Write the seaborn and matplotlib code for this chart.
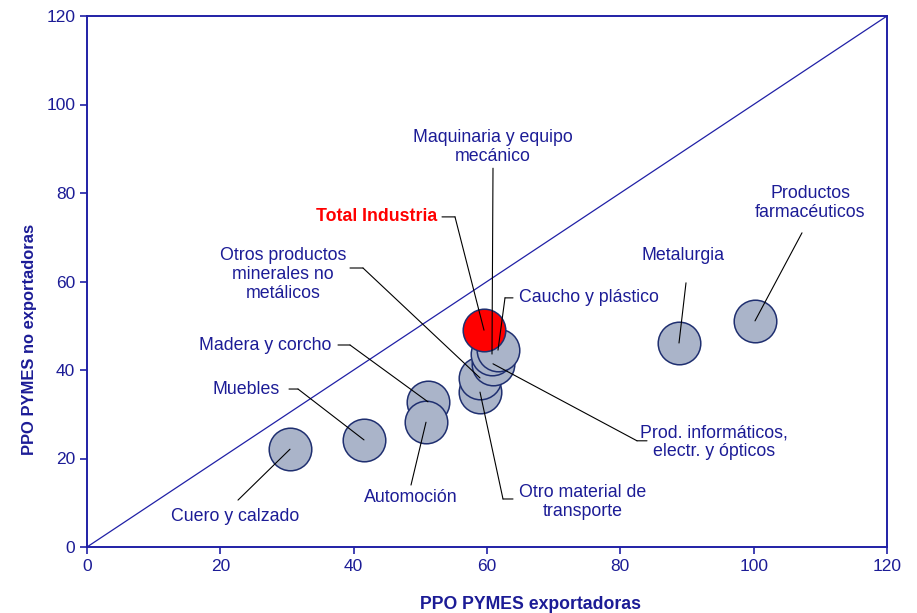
import numpy as np
import pandas as pd
import matplotlib
matplotlib.use("Agg")
import matplotlib.pyplot as plt
import seaborn as sns

# data
sectors = ["Cuero y calzado", "Muebles", "Madera y corcho", "Automoción",
           "Otro material de\ntransporte", "Otros productos\nminerales no\nmetálicos",
           "Prod. informáticos,\nelectr. y ópticos", "Maquinaria y equipo\nmecánico",
           "Caucho y plástico", "Metalurgia", "Productos\nfarmacéuticos",
           "Total Industria"]
ppo_export = [30.45, 41.55, 51.15, 50.85, 58.95, 58.95, 60.9, 60.75, 61.65, 88.8, 100.2, 59.55]
ppo_noexport = [22.1, 24.2, 32.8, 28.2, 35.0, 38.2, 41.4, 43.6, 44.5, 46.1, 51.1, 49.0]

df = pd.DataFrame({"sector": sectors, "exp": ppo_export, "noexp": ppo_noexport})
df["total"] = df["sector"] == "Total Industria"

navy = "#1c1c96"
axis_blue = "#2020a6"
sns.set_style("white")
plt.rcParams["font.family"] = ["Liberation Sans", "DejaVu Sans"]
narrow = ["Liberation Sans Narrow", "Liberation Sans", "DejaVu Sans"]

fig = plt.figure(figsize=(9.17, 6.13), dpi=100)
ax = fig.add_axes([87 / 917, 66 / 613, 800 / 917, 531 / 613])

ax.plot([0, 120], [0, 120], color=axis_blue, lw=0.9, zorder=1)

sns.scatterplot(data=df[~df["total"]], x="exp", y="noexp", s=940,
                color="#aab4c9", edgecolor="#1f2f70", linewidth=1.1, ax=ax, zorder=3)
sns.scatterplot(data=df[df["total"]], x="exp", y="noexp", s=940,
                color="#ff0000", edgecolor="#1f2f70", linewidth=1.1, ax=ax, zorder=4)

# label layout: text position, alignment, elbow (line start), stub start
labels = {
    "Cuero y calzado": dict(xy=(22.2, 6.8), ha="center", elbow=(22.65, 10.6), stub=None),
    "Muebles": dict(xy=(23.85, 35.5), ha="center", elbow=(31.65, 35.7), stub=(30.3, 35.7)),
    "Madera y corcho": dict(xy=(26.7, 45.6), ha="center", elbow=(39.45, 45.65), stub=(37.65, 45.65)),
    "Automoción": dict(xy=(48.6, 11.1), ha="center", elbow=(48.6, 14.0), stub=None),
    "Otro material de\ntransporte": dict(xy=(74.4, 10.2), ha="center", elbow=(62.4, 10.85), stub=(63.9, 10.85)),
    "Otros productos\nminerales no\nmetálicos": dict(xy=(29.4, 61.5), ha="center", elbow=(41.4, 63.05), stub=(39.45, 63.05)),
    "Prod. informáticos,\nelectr. y ópticos": dict(xy=(94.05, 23.7), ha="center", elbow=(82.5, 24.0), stub=(84.0, 24.0)),
    "Maquinaria y equipo\nmecánico": dict(xy=(60.9, 90.4), ha="center", elbow=(60.9, 85.6), stub=None),
    "Caucho y plástico": dict(xy=(64.8, 56.3), ha="left", elbow=(62.7, 56.3), stub=(63.9, 56.3)),
    "Metalurgia": dict(xy=(89.4, 65.8), ha="center", elbow=(89.85, 59.7), stub=None),
    "Productos\nfarmacéuticos": dict(xy=(108.45, 77.7), ha="center", elbow=(107.25, 71.0), stub=None),
    "Total Industria": dict(xy=(52.5, 74.6), ha="right", elbow=(55.2, 74.6), stub=(53.25, 74.6)),
}

line_kw = dict(arrowstyle="-", color="black", lw=0.8, shrinkA=0, shrinkB=0)
for _, row in df.iterrows():
    lab = labels[row["sector"]]
    ax.annotate("", xy=(row["exp"], row["noexp"]), xytext=lab["elbow"],
                arrowprops=line_kw, zorder=5)
    if lab["stub"] is not None:
        ax.annotate("", xy=lab["elbow"], xytext=lab["stub"], arrowprops=line_kw, zorder=5)
    if row["total"]:
        ax.text(*lab["xy"], row["sector"], ha=lab["ha"], va="center", color="red",
                fontsize=12.8, fontweight="bold", zorder=6)
    else:
        ax.text(*lab["xy"], row["sector"], ha=lab["ha"], va="center", color=navy,
                fontsize=12.8, linespacing=1.15, zorder=6)

ax.set_xlim(0, 120)
ax.set_ylim(0, 120)
ax.set_xticks(np.arange(0, 121, 20))
ax.set_yticks(np.arange(0, 121, 20))
ax.tick_params(colors=axis_blue, labelcolor=navy, labelsize=12.5, length=5, width=1.2,
               direction="out", bottom=True, left=True)
for t in ax.get_xticklabels() + ax.get_yticklabels():
    t.set_family(narrow)
for sp in ax.spines.values():
    sp.set_color(axis_blue)
    sp.set_linewidth(1.4)

ax.set_xlabel("PPO PYMES exportadoras", color=navy, fontsize=12.7, fontweight="bold",
              family=narrow)
ax.set_ylabel("PPO PYMES no exportadoras", color=navy, fontsize=11.9, fontweight="bold",
              family=narrow)
ax.xaxis.set_label_coords(0.554, -0.092)
ax.yaxis.set_label_coords(-0.0625, 0.39)

fig.savefig("out.png", dpi=100)
